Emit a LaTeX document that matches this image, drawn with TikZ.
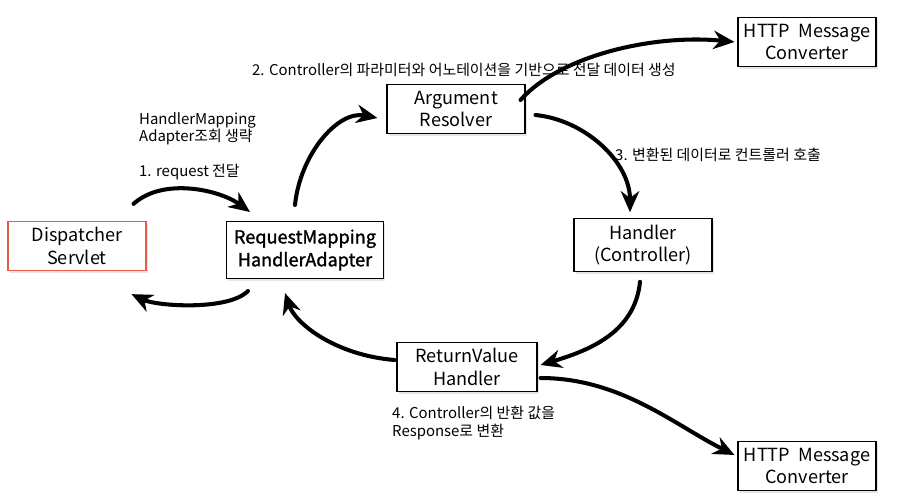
\documentclass[tikz,border=0pt]{standalone}
\usepackage{fontspec}
\setmainfont{Noto Sans CJK KR}
\newfontfamily\semibold{Noto Sans CJK KR}[FakeBold=1.3]
\usetikzlibrary{
    arrows.meta,  % For arrow tips
    shadows       % For the soft shadow under the boxes
}

\begin{document}
\begin{tikzpicture}[
    x=0.02cm, y=-0.02cm, % one unit = one pixel of the sketch, y going down
    >={Stealth[length=12pt, width=10.5pt]}, % Big filled heads
    box/.style={draw, line width=0.6pt, fill=white, align=center,
        minimum width=2.76cm, minimum height=0.98cm,
        font=\fontsize{10.3}{13}\selectfont,
        drop shadow={shadow xshift=1pt, shadow yshift=-1.5pt, opacity=0.2}},
    flow/.style={->, line width=2.3pt, line cap=round}, % Brush-like arrows
    note/.style={font=\fontsize{8.5}{9.8}\selectfont, align=left}
]
    \useasboundingbox (0,0) rectangle (902,498);

    % Boxes
    \node[box, draw={rgb,255:red,226;green,92;blue,70}] (disp) at (77,246) {Dispatcher\\Servlet};
    \node[box, minimum width=3.14cm, minimum height=1.14cm, font=\fontsize{10.3}{13}\semibold]
        (adapt) at (305,250) {RequestMapping\\HandlerAdapter};
    \node[box] (arg) at (456,109) {Argument\\Resolver};
    \node[box] (conv1) at (807,42) {HTTP~~Message\\Converter};
    \node[box] (handler) at (643,245) {Handler\\(Controller)};
    \node[box, minimum width=2.8cm] (ret) at (467,367) {ReturnValue\\Handler};
    \node[box] (conv2) at (807,466) {HTTP~~Message\\Converter};

    % Notes
    \node[note, anchor=west] (skip) at (133,129) {HandlerMapping\\Adapter조회 생략};
    \node[note, anchor=west] (step1) at (133,172) {1. request 전달};
    \node[note, anchor=west] (step2) at (246,70) {2. Controller의 파라미터와 어노테이션을 기반으로 전달 데이터 생성};
    \node[note, anchor=west] (step3) at (609,155) {3. 변환된 데이터로 컨트롤러 호출};
    \node[note, anchor=west] (step4) at (386,423) {4. Controller의 반환 값을\\Response로 변환};

    % Arrows round the loop
    \draw[flow] ([shift={(-13,-17)}]disp.north east) .. controls +(30,-27) and +(-30,-22) .. ([shift={(24,-9)}]adapt.north west);
    \draw[flow] ([shift={(22,12)}]adapt.south west) .. controls +(-20,20) and +(25,12) .. ([shift={(-15,23)}]disp.south east);
    \draw[flow] ([shift={(-10,-16)}]adapt.north) .. controls +(5,-50) and +(-40,-8) .. ([shift={(-9,9)}]arg.west);
    \draw[flow] ([shift={(-5,-9)}]arg.east) .. controls +(40,-45) and +(-80,-8) .. ([shift={(-3,0)}]conv1.west);
    \draw[flow] ([shift={(10,6)}]arg.east) .. controls +(50,5) and +(0,-50) .. ([shift={(-13,-6)}]handler.north);
    \draw[flow] ([shift={(-3,10)}]handler.south) .. controls +(-5,50) and +(50,-15) .. ([shift={(3,-2)}]ret.east);
    \draw[flow] ([shift={(-2,-7)}]ret.west) .. controls +(-60,-5) and +(10,30) .. ([shift={(-20,14)}]adapt.south);
    \draw[flow] ([shift={(3,11)}]ret.east) .. controls +(80,0) and +(-60,-30) .. ([shift={(-3,-11)}]conv2.west);
\end{tikzpicture}
\end{document}
